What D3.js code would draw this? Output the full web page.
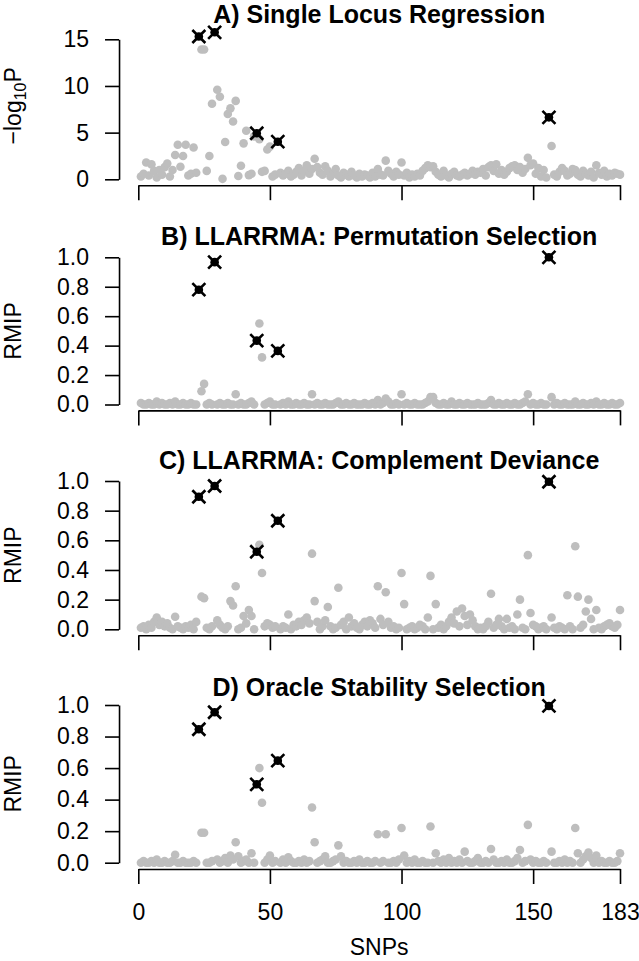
<!DOCTYPE html>
<html><head><meta charset="utf-8">
<script src="https://cdn.jsdelivr.net/npm/d3@7"></script>
<style>body{margin:0;background:#fff} svg{display:block}</style>
</head><body>
<svg id="chart" width="639" height="961"></svg>
<script>
// ---------------- DATA ----------------
const xTicks = [0, 50, 100, 150, 183];
const causalSNPs = [23, 29, 45, 53, 156];
const panelTitles = ["A) Single Locus Regression", "B) LLARRMA: Permutation Selection",
                     "C) LLARRMA: Complement Deviance", "D) Oracle Stability Selection"];
const yTicksLogP = [0, 5, 10, 15];
const yTicksRMIP = [0.0, 0.2, 0.4, 0.6, 0.8, 1.0];

// SNP 1..183
const singleLocus = [
 0.3,0.6,1.8,0.4,1.6,0.9,0.2,1.0,0.5,1.3,
 1.7,0.3,1.0,2.6,3.7,1.35,2.5,3.7,0.4,0.6,
 3.4,0.7,15.3,13.9,13.9,0.9,2.5,8.1,15.75,9.6,
 8.85,0.05,4.0,7.0,7.6,6.2,8.4,0.35,1.45,3.85,
 5.2,0.45,0.6,4.6,4.93,4.3,0.8,0.9,3.2,3.5,
 0.3,0.5,4.03,0.7,0.4,0.6,0.9,0.3,0.5,0.8,
 1.2,0.4,0.9,1.5,0.6,1.1,2.2,1.3,0.7,0.5,
 1.4,0.9,0.3,0.6,1.1,0.4,0.2,0.7,0.5,0.3,
 0.8,0.4,0.2,0.6,0.3,0.5,0.4,0.2,0.7,0.3,
 1.1,0.5,0.4,2.0,0.9,0.6,0.3,0.8,0.5,1.8,
 0.4,0.7,0.2,0.5,0.3,0.6,0.4,0.9,1.2,1.5,
 1.3,1.4,0.8,0.5,0.3,0.9,0.4,0.2,0.6,0.8,
 0.4,0.3,0.5,0.7,0.4,0.6,0.9,0.5,0.8,0.7,
 1.1,0.4,1.3,1.5,0.9,1.6,0.6,1.0,0.5,0.8,
 1.2,1.4,1.5,1.0,1.3,0.7,1.1,2.3,1.5,1.7,
 0.6,1.2,0.3,1.0,0.2,6.64,3.57,0.5,0.3,0.8,
 1.2,0.9,0.4,0.6,1.1,1.0,0.5,0.3,0.9,0.6,
 0.4,0.8,0.2,1.5,0.7,0.5,0.9,0.3,0.6,0.4,
 0.7,0.6,0.5];

const permutationRMIP = [
 0.01,0.0,0.0,0.01,0.0,0.0,0.02,0.0,0.01,0.0,
 0.0,0.01,0.0,0.02,0.0,0.0,0.01,0.0,0.0,0.01,
 0.0,0.0,0.78,0.09,0.14,0.0,0.01,0.0,0.967,0.0,
 0.01,0.0,0.0,0.01,0.0,0.0,0.07,0.0,0.01,0.0,
 0.0,0.01,0.02,0.0,0.434,0.55,0.32,0.0,0.01,0.02,
 0.0,0.0,0.364,0.0,0.01,0.0,0.02,0.0,0.0,0.01,
 0.0,0.0,0.01,0.0,0.0,0.07,0.0,0.01,0.0,0.0,
 0.01,0.0,0.0,0.0,0.01,0.02,0.0,0.0,0.01,0.0,
 0.0,0.01,0.0,0.0,0.0,0.01,0.0,0.0,0.01,0.0,
 0.03,0.0,0.01,0.04,0.02,0.0,0.0,0.01,0.0,0.07,
 0.0,0.01,0.0,0.0,0.01,0.0,0.0,0.0,0.01,0.02,
 0.05,0.05,0.01,0.0,0.0,0.01,0.0,0.0,0.02,0.0,
 0.0,0.01,0.0,0.0,0.01,0.0,0.0,0.0,0.01,0.0,
 0.0,0.0,0.01,0.03,0.0,0.0,0.01,0.0,0.0,0.01,
 0.0,0.0,0.01,0.0,0.0,0.01,0.02,0.07,0.0,0.01,
 0.0,0.0,0.01,0.0,0.0,1.0,0.05,0.0,0.01,0.0,
 0.0,0.01,0.0,0.0,0.0,0.02,0.0,0.0,0.01,0.0,
 0.0,0.01,0.0,0.02,0.0,0.0,0.01,0.0,0.0,0.01,
 0.0,0.0,0.01];

const complementRMIP = [
 0.01,0.02,0.0,0.03,0.01,0.05,0.08,0.03,0.05,0.02,
 0.04,0.01,0.0,0.085,0.02,0.01,0.0,0.02,0.01,0.03,
 0.0,0.05,0.894,0.22,0.21,0.01,0.0,0.02,0.966,0.06,
 0.03,0.01,0.0,0.02,0.19,0.16,0.29,0.0,0.01,0.09,
 0.04,0.13,0.09,0.0,0.523,0.57,0.38,0.02,0.04,0.03,
 0.01,0.02,0.732,0.0,0.02,0.01,0.1,0.0,0.03,0.02,
 0.05,0.03,0.06,0.08,0.04,0.51,0.19,0.05,0.0,0.02,
 0.06,0.15,0.02,0.0,0.01,0.28,0.03,0.05,0.0,0.08,
 0.02,0.04,0.01,0.0,0.03,0.05,0.02,0.06,0.04,0.01,
 0.29,0.07,0.03,0.25,0.05,0.01,0.02,0.0,0.01,0.38,
 0.17,0.0,0.01,0.02,0.0,0.01,0.03,0.02,0.0,0.08,
 0.36,0.0,0.17,0.01,0.03,0.0,0.02,0.05,0.08,0.04,
 0.12,0.02,0.14,0.09,0.03,0.1,0.06,0.02,0.0,0.01,
 0.0,0.02,0.05,0.24,0.01,0.03,0.07,0.02,0.0,0.07,
 0.01,0.02,0.0,0.1,0.2,0.01,0.0,0.5,0.11,0.03,
 0.02,0.0,0.01,0.02,0.0,0.995,0.08,0.01,0.0,0.02,
 0.01,0.0,0.23,0.02,0.0,0.56,0.22,0.01,0.03,0.12,
 0.2,0.07,0.0,0.13,0.01,0.0,0.02,0.03,0.04,0.02,
 0.01,0.03,0.13];

const oracleRMIP = [
 0.0,0.01,0.0,0.0,0.01,0.0,0.02,0.0,0.0,0.01,
 0.0,0.0,0.01,0.05,0.0,0.0,0.01,0.0,0.0,0.0,
 0.01,0.0,0.846,0.19,0.19,0.0,0.0,0.01,0.954,0.02,
 0.0,0.01,0.03,0.0,0.045,0.02,0.13,0.04,0.0,0.01,
 0.02,0.0,0.06,0.0,0.497,0.6,0.38,0.0,0.02,0.045,
 0.0,0.01,0.647,0.0,0.02,0.0,0.035,0.01,0.0,0.0,
 0.01,0.0,0.02,0.0,0.01,0.35,0.13,0.0,0.01,0.02,
 0.04,0.0,0.0,0.01,0.02,0.11,0.04,0.0,0.01,0.0,
 0.0,0.01,0.0,0.02,0.0,0.0,0.01,0.0,0.0,0.01,
 0.18,0.0,0.01,0.18,0.0,0.0,0.01,0.0,0.02,0.22,
 0.045,0.0,0.01,0.0,0.02,0.0,0.0,0.01,0.0,0.0,
 0.23,0.0,0.06,0.01,0.0,0.02,0.0,0.03,0.0,0.01,
 0.0,0.02,0.0,0.07,0.01,0.0,0.0,0.01,0.03,0.0,
 0.0,0.01,0.0,0.087,0.02,0.0,0.0,0.01,0.0,0.02,
 0.0,0.0,0.01,0.03,0.08,0.0,0.01,0.24,0.02,0.0,
 0.01,0.0,0.0,0.01,0.0,0.994,0.07,0.0,0.0,0.01,
 0.0,0.02,0.0,0.01,0.0,0.22,0.06,0.0,0.02,0.04,
 0.064,0.03,0.0,0.045,0.0,0.01,0.0,0.0,0.01,0.0,
 0.0,0.01,0.06];

// ---------------- DRAW ----------------
const svg = d3.select("#chart");
const FONT = "'Liberation Sans', Arial, Helvetica, sans-serif";
const GREY = "#bebebe";

const x = d3.scaleLinear().domain([0, 183]).range([138.3, 620]);

const panels = [
  {values: singleLocus, title: panelTitles[0], ticks: yTicksLogP, fmt: d3.format("d"),
   top: 15, y0: 179.3, yTop: 39.3, ymax: 15.75, titleY: 23, ylab: "logp", xlabels: false},
  {values: permutationRMIP, title: panelTitles[1], ticks: yTicksRMIP, fmt: d3.format(".1f"),
   top: 1, y0: 404.5, yTop: 257.3, ymax: 1, titleY: 245, ylab: "RMIP", xlabels: false},
  {values: complementRMIP, title: panelTitles[2], ticks: yTicksRMIP, fmt: d3.format(".1f"),
   top: 1, y0: 629.3, yTop: 481, ymax: 1, titleY: 469, ylab: "RMIP", xlabels: false},
  {values: oracleRMIP, title: panelTitles[3], ticks: yTicksRMIP, fmt: d3.format(".1f"),
   top: 1, y0: 862.7, yTop: 705, ymax: 1, titleY: 696, ylab: "RMIP", xlabels: true}
];

const plotLeft = x(-0.04 * 183), plotRight = x(183 * 1.04);
const plotCenterX = (plotLeft + plotRight) / 2;

panels.forEach(p => {
  const y = d3.scaleLinear().domain([0, p.top]).range([p.y0, p.yTop]);
  const g = svg.append("g");
  const axisY = y(-0.04 * p.ymax);
  const regionTop = y(p.ymax * 1.04);

  // grey points
  const pts = p.values.map((v, i) => ({snp: i + 1, v}));
  g.append("g").selectAll("circle").data(pts.filter(d => !causalSNPs.includes(d.snp)))
    .join("circle")
    .attr("cx", d => x(d.snp)).attr("cy", d => y(d.v)).attr("r", 4.3)
    .attr("fill", GREY);

  // causal points
  const cg = g.append("g").selectAll("g").data(pts.filter(d => causalSNPs.includes(d.snp)))
    .join("g").attr("transform", d => `translate(${x(d.snp)},${y(d.v)})`);
  cg.append("circle").attr("r", 4.3).attr("fill", "#000");
  cg.append("path").attr("d", "M-6.5,-6.5L6.5,6.5M-6.5,6.5L6.5,-6.5")
    .attr("stroke", "#000").attr("stroke-width", 2.6).attr("fill", "none");

  // y axis
  const ya = g.append("g").attr("transform", `translate(${plotLeft},0)`)
    .call(d3.axisLeft(y).tickValues(p.ticks).tickFormat(p.fmt).tickSize(14).tickSizeOuter(0).tickPadding(16));
  ya.select(".domain").attr("stroke-width", 1.6);
  ya.selectAll(".tick line").attr("stroke-width", 1.6);
  ya.selectAll("text").attr("font-family", FONT).attr("font-size", 23).attr("fill", "#000");

  // x axis
  const xa = g.append("g").attr("transform", `translate(0,${axisY})`)
    .call(d3.axisBottom(x).tickValues(xTicks).tickFormat(p.xlabels ? d3.format("d") : "")
      .tickSize(15).tickSizeOuter(0).tickPadding(20));
  xa.select(".domain").attr("stroke-width", 1.6);
  xa.selectAll(".tick line").attr("stroke-width", 1.6);
  xa.selectAll("text").attr("font-family", FONT).attr("font-size", 23).attr("fill", "#000");

  // title
  g.append("text").attr("x", plotCenterX).attr("y", p.titleY)
    .attr("text-anchor", "middle").attr("font-family", FONT).attr("font-weight", "bold")
    .attr("font-size", 25).text(p.title);

  // y label
  const cy = (regionTop + axisY) / 2;
  const yl = g.append("text").attr("transform", `translate(21,${cy}) rotate(-90)`)
    .attr("text-anchor", "middle").attr("font-family", FONT).attr("font-size", 23);
  if (p.ylab === "logp") {
    yl.append("tspan").text("\u2212log");
    yl.append("tspan").attr("font-size", 16).attr("dy", 5).text("10");
    yl.append("tspan").attr("dy", -5).text("P");
  } else {
    yl.text("RMIP");
  }
});

// x axis label
svg.append("text").attr("x", plotCenterX).attr("y", 955).attr("text-anchor", "middle")
  .attr("font-family", FONT).attr("font-size", 23).text("SNPs");
</script>
</body></html>
